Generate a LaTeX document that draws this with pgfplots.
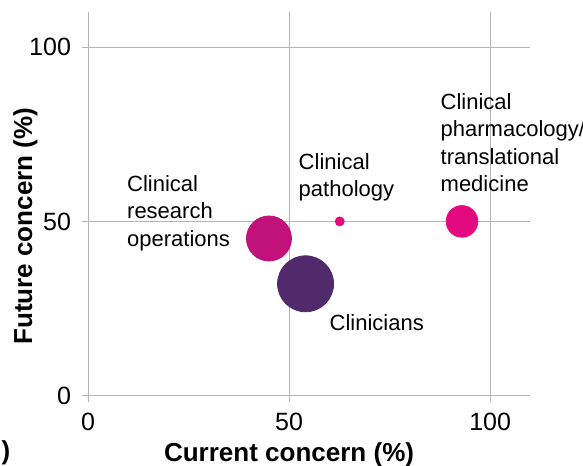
\documentclass[border=0pt]{standalone}
\usepackage{fontspec}
\setmainfont{Liberation Sans}
\usepackage{pgfplots}
\pgfplotsset{compat=1.18}

\definecolor{opsmag}{HTML}{C1127A}
\definecolor{clinpurple}{HTML}{512A6B}
\definecolor{hotpink}{HTML}{E5097F}
\definecolor{gridgray}{HTML}{B4B4B4}

\begin{document}
\begin{tikzpicture}
\begin{axis}[
    scale only axis,
    width=221pt, height=191.65pt,
    xmin=0, xmax=110, ymin=0, ymax=110,
    xtick={0,50,100}, ytick={0,50,100},
    axis line style={draw=none},
    tick pos=left,
    tick align=outside,
    major tick length=3pt,
    tick style={gridgray, line width=0.5pt},
    grid=major,
    major grid style={gridgray, line width=0.5pt},
    ticklabel style={font=\fontsize{12.5}{14}\selectfont},
    /pgf/number format/assume math mode=true,
    xticklabel style={yshift=-2pt},
    yticklabel style={xshift=-2pt},
    xlabel={\textbf{Current concern (\%)}},
    ylabel={\textbf{Future concern (\%)}},
    every axis x label/.style={at={(axis description cs:0.4545,-0.1724)}, anchor=base, font=\fontsize{13}{15}\selectfont},
    every axis y label/.style={at={(axis description cs:-0.1266,0.4423)}, rotate=90, anchor=base, font=\fontsize{13}{15}\selectfont},
    clip=false,
]
% bubbles: current concern, future concern
\addplot[only marks, mark=*, mark size=11.25pt, color=opsmag] coordinates {(45.0,45.1)};
\addplot[only marks, mark=*, mark size=14pt, color=clinpurple] coordinates {(54.1,32.1)};
\addplot[only marks, mark=*, mark size=2.25pt, color=hotpink] coordinates {(62.6,50.0)};
\addplot[only marks, mark=*, mark size=7.9pt, color=hotpink] coordinates {(93.0,50.0)};

% labels
\begin{scope}[every node/.style={anchor=base west, inner sep=0pt, font=\fontsize{11}{13.75}\selectfont}]
\node at (axis cs:9.63,58.7) {Clinical};
\node at (axis cs:9.63,50.7) {research};
\node at (axis cs:9.63,42.9) {operations};
\node at (axis cs:52.3,64.9) {Clinical};
\node at (axis cs:52.3,57.1) {pathology};
\node at (axis cs:87.6,82.1) {Clinical};
\node at (axis cs:87.6,74.3) {pharmacology/};
\node at (axis cs:87.6,66.4) {translational};
\node at (axis cs:87.6,58.5) {medicine};
\node at (axis cs:60.0,18.6) {Clinicians};
\end{scope}
\node[anchor=base west, inner sep=0pt, font=\fontsize{13}{15}\selectfont\bfseries] at (axis cs:-21.6,-18.2) {)};

\coordinate (bbl) at (axis cs:-21.9,-19.9);
\coordinate (btr) at (axis cs:123.1,113.5);
\end{axis}
\pgfresetboundingbox
\path[use as bounding box] (bbl) rectangle (btr);
\end{tikzpicture}
\end{document}
